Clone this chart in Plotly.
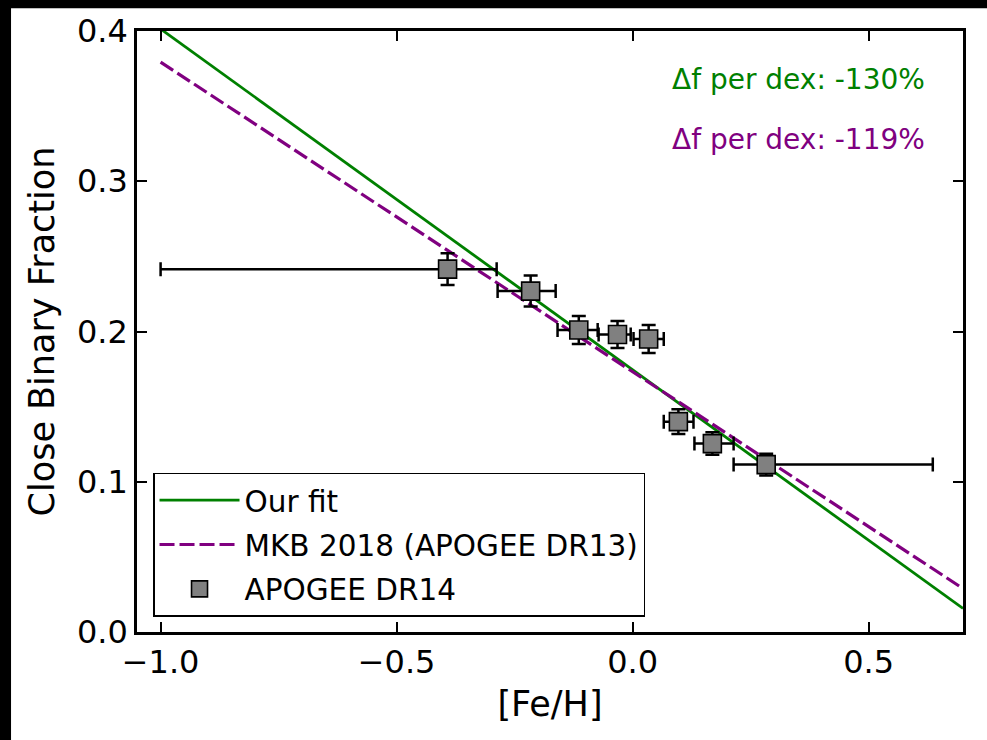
import plotly.graph_objects as go

# APOGEE DR14 binned close binary fraction vs metallicity
feh = [-0.392, -0.216, -0.114, -0.032, 0.034, 0.097, 0.169, 0.283]
feh_err_minus = [0.608, 0.070, 0.045, 0.040, 0.032, 0.031, 0.038, 0.069]
feh_err_plus = [0.104, 0.053, 0.040, 0.028, 0.032, 0.032, 0.045, 0.353]
frac = [0.2415, 0.2269, 0.201, 0.198, 0.195, 0.140, 0.1254, 0.1114]
frac_err = [0.0106, 0.0103, 0.0093, 0.009, 0.0093, 0.0083, 0.0075, 0.0073]

# Linear fits: f(x) = f0 * (1 + s * x), s = fractional change per dex
fit_names = ["Our fit", "MKB 2018 (APOGEE DR13)"]
fit_f0 = [0.1745, 0.1732]
fit_slope = [-1.30, -1.19]
fit_colors = ["#008000", "#800080"]
fit_dash = ["solid", "15px,5px"]
fit_x = [-1.0, 0.7]

x_ticks = [-1.0, -0.5, 0.0, 0.5]
y_ticks = [0.0, 0.1, 0.2, 0.3, 0.4]

FONT = "DejaVu Sans"

fig = go.Figure()

for i, (name, f0, s, c, d) in enumerate(zip(fit_names, fit_f0, fit_slope, fit_colors, fit_dash)):
    fig.add_trace(go.Scatter(
        x=fit_x, y=[f0 * (1 + s * x) for x in fit_x],
        mode="lines", name=name, legendgroup=f"g{i}",
        line=dict(color=c, width=2.8 if i == 0 else 3.2, dash=d),
    ))

fig.add_trace(go.Scatter(
    x=feh, y=frac, mode="markers", name="APOGEE DR14", legendgroup="g2",
    marker=dict(symbol="square", size=18, color="#808080",
                line=dict(color="black", width=1.6)),
    error_x=dict(type="data", symmetric=False, array=feh_err_plus,
                 arrayminus=feh_err_minus, color="black", thickness=2.5, width=7),
    error_y=dict(type="data", array=frac_err, color="black", thickness=2.5, width=7),
))

# Fractional slope labels
for k, (s, c) in enumerate(zip(fit_slope, fit_colors)):
    fig.add_annotation(
        x=0.957, y=[0.920, 0.819][k], xref="paper", yref="paper",
        xanchor="right", yanchor="middle", showarrow=False,
        text=f"Δf per dex: {round(s * 100):d}%",
        font=dict(family=FONT, size=28, color=c),
    )

axis_common = dict(
    showgrid=False, zeroline=False, showline=True, linecolor="black", linewidth=2.5,
    mirror="ticks", ticks="inside", ticklen=10, tickwidth=2, tickcolor="black",
    tickfont=dict(family=FONT, size=32, color="black"), tickformat=".1f",
)

fig.update_xaxes(range=[-1.05, 0.70], tickvals=x_ticks,
                 title=dict(text="[Fe/H]", font=dict(family=FONT, size=35, color="black"), standoff=12),
                 **axis_common)
fig.update_yaxes(range=[0.0, 0.4], tickvals=y_ticks,
                 title=dict(text="Close Binary Fraction", font=dict(family=FONT, size=35, color="black"), standoff=12),
                 **axis_common)

# dark strips along the top and left edges
fig.add_shape(type="rect", xref="paper", yref="paper", x0=-0.17, x1=-0.1525, y0=-0.2, y1=1.06,
              fillcolor="black", line_width=0, layer="above")
fig.add_shape(type="rect", xref="paper", yref="paper", x0=-0.17, x1=1.05, y0=1.038, y1=1.06,
              fillcolor="black", line_width=0, layer="above")

fig.update_layout(
    width=987, height=740,
    margin=dict(l=137, r=24, t=29, b=108),
    paper_bgcolor="white", plot_bgcolor="white",
    font=dict(family=FONT, color="black"),
    showlegend=True,
    legend=dict(
        x=0.0194, y=0.025, xanchor="left", yanchor="bottom",
        bgcolor="white", bordercolor="black", borderwidth=1.5,
        font=dict(family=FONT, size=29.5, color="black"),
        traceorder="grouped", tracegroupgap=3, itemwidth=80,
    ),
)

fig.write_html("out.html")
